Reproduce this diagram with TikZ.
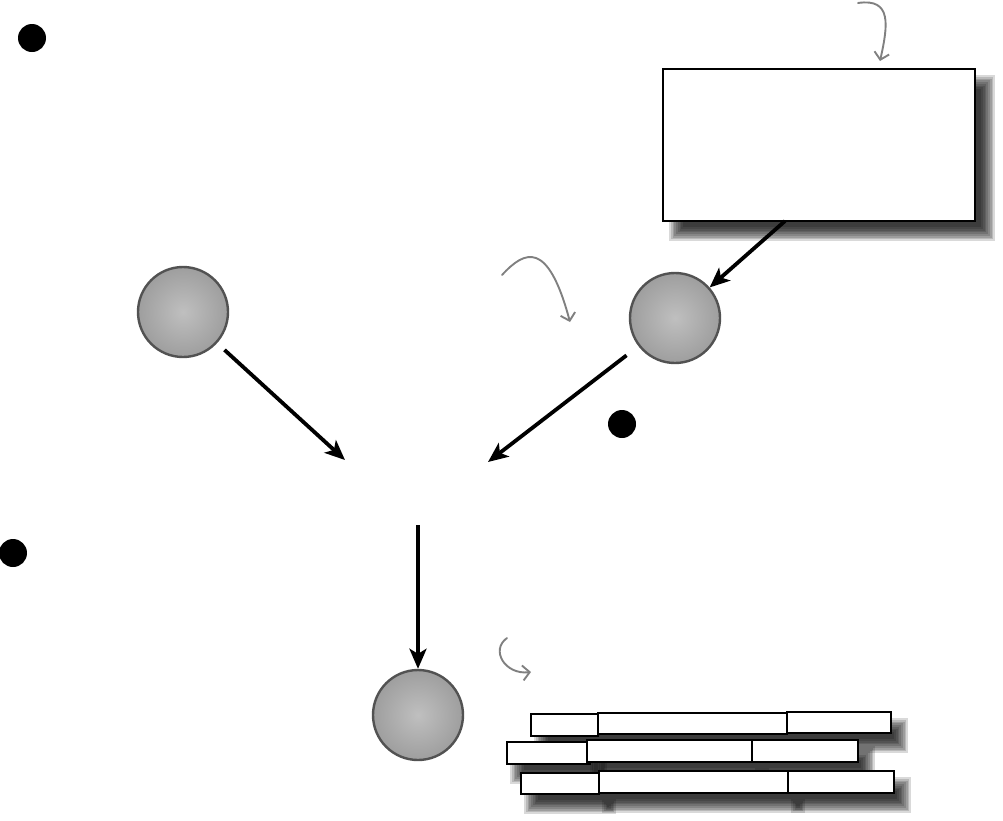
\documentclass[tikz,border=0pt]{standalone}
\usetikzlibrary{arrows.meta,shapes.geometric}
\newcommand\softshadow[6]{%
  \foreach \s in {-7,-5.25,...,7}{%
    \fill[black,opacity=0.15] ({#1+#5+\s},{#2+#6+\s}) rectangle ({#3+#5-\s},{#4+#6-\s});}}
\tikzset{
  ball/.style={circle,minimum size=90pt,inner sep=0pt,draw=black!68,line width=2.4pt,
    shade,inner color=black!25,outer color=black!38},
  bullet/.style={circle,fill=black,minimum size=28pt,inner sep=0pt},
  bigbox/.style={draw=black,fill=white,line width=2.5pt,inner sep=0pt},
  cell/.style={draw=black,fill=white,line width=1.6pt,inner sep=0pt},
  flow/.style={line width=3.8pt,-{Stealth[length=20pt,width=17pt,inset=5pt]}},
  note/.style={draw=black!50,line width=1.9pt,line cap=round,-{Straight Barb[length=7pt,width=15pt]}}
}
\begin{document}
\begin{tikzpicture}[x=1pt,y=-1pt]
\useasboundingbox (0,0) rectangle (1003,820);
% bullets
\node[bullet] (d1) at (32,38) {};
\node[bullet] (d2) at (622,424) {};
\node[bullet] (d3) at (13,553) {};
% big box with shadow
\softshadow{663}{69}{975}{221}{13}{13}
\node[bigbox,minimum width=312pt,minimum height=152pt] (box) at (819,145) {};
% balls
\node[ball] (b1) at (183,312) {};
\node[ball] (b2) at (675,318) {};
\node[ball] (b3) at (418,715) {};
% coordinates
\coordinate (bs) at (785,221);
\coordinate (m1) at (345,460);
\coordinate (m2) at (488,462);
\coordinate (m3) at (418,525);
% arrows
\draw[flow] (bs) -- (b2);
\draw[flow,shorten <=10pt] (b1) -- (m1);
\draw[flow,shorten <=15pt] (b2) -- (m2);
\draw[flow] (m3) -- (b3);
% annotation arrows
\coordinate (n1s) at (858,3);
\coordinate (n1e) at (880,61);
\draw[note] (n1s) .. controls (892,-2) and (888,25) .. (n1e);
\coordinate (n2s) at (502,275);
\coordinate (n2e) at (570,322);
\draw[note] (n2s) .. controls (525,250) and (548,240) .. (n2e);
\coordinate (n3s) at (507,638);
\coordinate (n3e) at (531,672);
\draw[note] (n3s) .. controls (490,650) and (505,675) .. (n3e);
% row shadows
\softshadow{531}{714}{598}{736}{10}{13}
\softshadow{598}{713}{787}{734}{10}{13}
\softshadow{787}{712}{891}{733}{10}{13}
\softshadow{507}{742}{590}{764}{10}{13}
\softshadow{587}{740}{752}{762}{10}{13}
\softshadow{752}{740}{858}{762}{10}{13}
\softshadow{521}{773}{599}{794}{10}{13}
\softshadow{599}{771}{788}{793}{10}{13}
\softshadow{788}{771}{894}{793}{10}{13}
% row cells
\node[cell,minimum width=67pt,minimum height=22pt] (r1a) at (564.5,725) {};
\node[cell,minimum width=189pt,minimum height=21pt] (r1b) at (692.5,723.5) {};
\node[cell,minimum width=104pt,minimum height=21pt] (r1c) at (839,722.5) {};
\node[cell,minimum width=83pt,minimum height=22pt] (r2a) at (548.5,753) {};
\node[cell,minimum width=165pt,minimum height=22pt] (r2b) at (669.5,751) {};
\node[cell,minimum width=106pt,minimum height=22pt] (r2c) at (805,751) {};
\node[cell,minimum width=78pt,minimum height=21pt] (r3a) at (560,783.5) {};
\node[cell,minimum width=189pt,minimum height=22pt] (r3b) at (693.5,782) {};
\node[cell,minimum width=106pt,minimum height=22pt] (r3c) at (841,782) {};
\end{tikzpicture}
\end{document}
